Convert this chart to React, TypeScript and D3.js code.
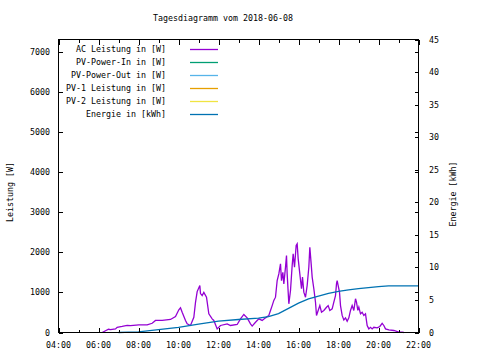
import React from "react";
import * as d3 from "d3";

const title = "Tagesdiagramm vom 2018-06-08";
const leftLabel = "Leistung [W]";
const rightLabel = "Energie [kWh]";

const legendLabels = [
  "AC Leistung in [W]",
  "PV-Power-In in [W]",
  "PV-Power-Out in [W]",
  "PV-1 Leistung in [W]",
  "PV-2 Leistung in [W]",
  "Energie in [kWh]",
];
const legendColors = ["#9400d3", "#009e73", "#56b4e9", "#e69f00", "#f0e442", "#0072b2"];

const leftTicks = [0, 1000, 2000, 3000, 4000, 5000, 6000, 7000];
const rightTicks = [0, 5, 10, 15, 20, 25, 30, 35, 40, 45];

const acTimes = [
  "06:11","06:30","06:36","06:51","06:56","07:11","07:26","07:36","08:01","08:26",
  "08:41","08:51","09:11","09:36","09:51","10:01","10:06","10:11","10:21","10:26",
  "10:36","10:46","10:51","10:56","11:04","11:06","11:11","11:16","11:24","11:31",
  "11:41","11:46","11:56","12:06","12:26","12:36","12:56","13:06","13:16","13:26",
  "13:36","13:41","13:51","14:01","14:11","14:21","14:31","14:36","14:41","14:46",
  "14:51","14:56","15:01","15:06","15:09","15:13","15:16","15:21","15:24","15:26",
  "15:31","15:36","15:41","15:44","15:48","15:53","15:56","15:59","16:04","16:09",
  "16:12","16:16","16:21","16:26","16:31","16:34","16:38","16:41","16:46","16:51",
  "16:54","16:59","17:04","17:09","17:16","17:24","17:29","17:34","17:41","17:46",
  "17:51","17:54","17:56","17:59","18:03","18:06","18:11","18:16","18:21","18:26",
  "18:31","18:36","18:41","18:46","18:51","18:54","18:58","19:01","19:06","19:11",
  "19:16","19:21","19:26","19:31","19:36","19:41","19:46","19:56","20:04","20:11",
  "20:16","20:21","20:31","20:46","21:01","21:11","21:16",
];
const acPower = [
  0, 80, 70, 90, 130, 150, 175, 170, 190, 190,
  230, 300, 300, 325, 400, 565, 615, 505, 300, 215,
  175, 380, 750, 1020, 1170, 970, 920, 1000, 880, 465,
  340, 300, 90, 175, 215, 175, 200, 340, 450, 365,
  215, 160, 255, 340, 300, 365, 425, 550, 670, 800,
  880, 1295, 1460, 1710, 1290, 1500, 1210, 1630, 1920, 1460,
  715, 1045, 1670, 1960, 1630, 2170, 2210, 1840, 1460, 1090,
  1380, 1005, 880, 1170, 1630, 2125, 1710, 1380, 1090, 755,
  425, 550, 670, 505, 550, 630, 670, 550, 590, 755,
  920, 1210, 1295, 1170, 1005, 670, 425, 315, 365, 280,
  365, 550, 670, 550, 840, 755, 550, 630, 465, 505,
  425, 465, 175, 90, 130, 90, 130, 115, 150, 230,
  175, 90, 65, 50, 10, 10, 0,
];

const energyTimes = [
  "07:00","08:00","09:00","10:00","11:00","12:00","13:00","14:00","14:30","15:00",
  "15:30","16:00","16:30","17:00","17:30","18:00","18:30","19:00","19:30","20:00",
  "20:30","22:00",
];
const energyKWh = [
  0, 0.1, 0.45, 0.8, 1.3, 1.75, 2.0, 2.2, 2.45, 2.9,
  3.7, 4.5, 5.15, 5.6, 6.0, 6.3, 6.55, 6.75, 6.9, 7.05,
  7.15, 7.17,
];

const parse = d3.timeParse("%H:%M");
const FONT = "'DejaVu Sans Mono', monospace";

export default function App() {
  const L = 58.5, R = 418.5, T = 39.5, B = 332.5;
  const x = d3.scaleTime().domain([parse("04:00")!, parse("22:00")!]).range([L, R]);
  const y1 = d3.scaleLinear().domain([0, 7300]).range([B, T]);
  const y2 = d3.scaleLinear().domain([0, 45]).range([B, T]);

  const hourTicks = x.ticks(d3.timeHour.every(1)!);
  const fmt = d3.timeFormat("%H:%M");

  const acData = acTimes.map((t, i) => ({ t: parse(t)!, v: acPower[i] }));
  const enData = energyTimes.map((t, i) => ({ t: parse(t)!, v: energyKWh[i] }));

  const acLine = d3.line<{ t: Date; v: number }>()
    .x(d => x(d.t)).y(d => y1(d.v));
  const enLine = d3.line<{ t: Date; v: number }>()
    .x(d => x(d.t)).y(d => y2(d.v));

  const fs = 8.3;

  return (
    <svg width={480} height={360} style={{ position: "absolute", left: 0, top: 0, background: "#fff" }}
      fontFamily={FONT} fontSize={fs}>
      <rect x={0} y={0} width={480} height={360} fill="#fff" />
      <text x={223} y={21} textAnchor="middle">{title}</text>

      {/* data */}
      <path d={acLine(acData)!} fill="none" stroke={legendColors[0]} strokeWidth={1.3} />
      <path d={enLine(enData)!} fill="none" stroke={legendColors[5]} strokeWidth={1.3} />

      {/* border */}
      <rect x={L} y={T} width={R - L} height={B - T} fill="none" stroke="#000" strokeWidth={1} shapeRendering="crispEdges" />

      {/* x ticks */}
      {hourTicks.map((d, i) => {
        const major = d.getHours() % 2 === 0;
        const len = major ? 5 : 3;
        const xx = Math.round(x(d)) + 0.5;
        return (
          <g key={"x" + i} shapeRendering="crispEdges">
            <line x1={xx} x2={xx} y1={B} y2={B - len} stroke="#000" />
            <line x1={xx} x2={xx} y1={T} y2={T + len} stroke="#000" />
            {major && <text x={x(d)} y={348} textAnchor="middle">{fmt(d)}</text>}
          </g>
        );
      })}

      {/* left ticks */}
      {leftTicks.map((v, i) => {
        const yy = Math.round(y1(v)) + 0.5;
        return (
          <g key={"l" + i} shapeRendering="crispEdges">
            <line x1={L} x2={L + 4} y1={yy} y2={yy} stroke="#000" />
            <line x1={R} x2={R - 4} y1={yy} y2={yy} stroke="#000" />
            <text x={50} y={y1(v) + 3} textAnchor="end">{v}</text>
          </g>
        );
      })}

      {/* right ticks */}
      {rightTicks.map((v, i) => {
        const yy = Math.round(y2(v)) + 0.5;
        return (
          <g key={"r" + i} shapeRendering="crispEdges">
            <line x1={R} x2={R - 4} y1={yy} y2={yy} stroke="#000" />
            <text x={429} y={y2(v) + 3} textAnchor="start">{v}</text>
          </g>
        );
      })}

      {/* axis labels */}
      <text transform="translate(13,192) rotate(-90)" textAnchor="middle">{leftLabel}</text>
      <text transform="translate(456,194) rotate(-90)" textAnchor="middle">{rightLabel}</text>

      {/* legend */}
      {legendLabels.map((lab, i) => {
        const yy = 49 + i * 13;
        return (
          <g key={"lg" + i}>
            <text x={166} y={yy + 3} textAnchor="end">{lab}</text>
            <line x1={190} x2={218} y1={yy + 0.5} y2={yy + 0.5} stroke={legendColors[i]} strokeWidth={1.3} />
          </g>
        );
      })}
    </svg>
  );
}
